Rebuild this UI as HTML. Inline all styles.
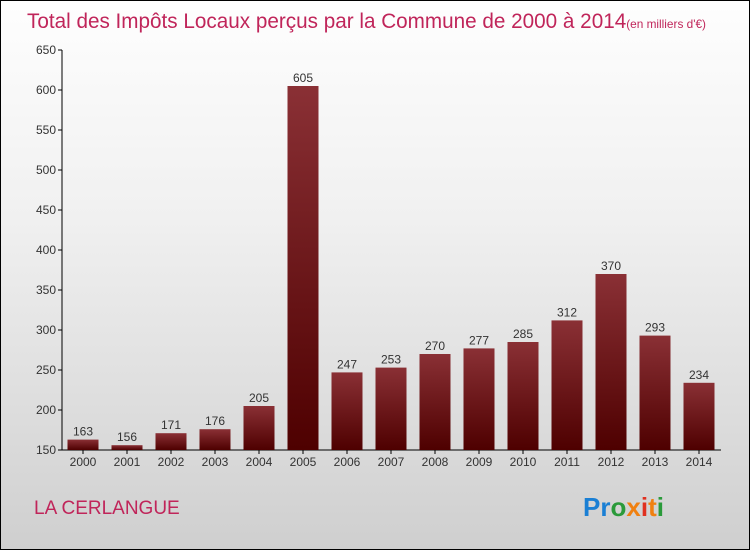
<!DOCTYPE html>
<html><head><meta charset="utf-8"><style>
body{margin:0}
#c{position:relative;width:748px;height:548px;border:1px solid #000;background:linear-gradient(#fefefe,#f0f0f0 40%,#cfcfcf);overflow:hidden;font-family:"Liberation Sans",sans-serif}
</style></head><body>
<div id="c">
<svg id="s" width="748" height="548">
<defs><linearGradient id="g" x1="0" x2="0" y1="0" y2="1"><stop offset="0" stop-color="#8a3035"/><stop offset="1" stop-color="#4e0000"/></linearGradient></defs>
<text x="26" y="27" font-size="21" fill="#c0255a" textLength="679" lengthAdjust="spacingAndGlyphs">Total des Impôts Locaux perçus par la Commune de 2000 à 2014<tspan font-size="12">(en milliers d'€)</tspan></text>
<text x="33" y="513" font-size="19" fill="#c0255a">LA CERLANGUE</text>
<text x="582" y="515" font-size="26" font-weight="bold"><tspan fill="#1a7fd4">Pr</tspan><tspan fill="#2a9a3a">o</tspan><tspan fill="#f08010">x</tspan><tspan fill="#e03020">i</tspan><tspan fill="#f08010">t</tspan><tspan fill="#2a9a3a">i</tspan></text>
</svg></div>
<script>
const years=["2000","2001","2002","2003","2004","2005","2006","2007","2008","2009","2010","2011","2012","2013","2014"];
const values=[163,156,171,176,205,605,247,253,270,277,285,312,370,293,234];
const ticks=[150,200,250,300,350,400,450,500,550,600,650];
const s=document.getElementById('s');const NS='http://www.w3.org/2000/svg';
const x0=60,step=44,yMin=150,yMax=650,yTop=49,yBot=449;
const y=v=>yBot-(v-yMin)/(yMax-yMin)*(yBot-yTop);
function el(t,a,p){const e=document.createElementNS(NS,t);for(const k in a)e.setAttribute(k,a[k]);(p||s).appendChild(e);return e;}
const ax=el('line',{x1:x0+1,x2:x0+1,y1:yTop,y2:yBot,stroke:'#000'});


const bx=el('line',{x1:x0,x2:x0+step*years.length,y1:yBot,y2:yBot,stroke:'#000'});


ticks.forEach(t=>{el('line',{x1:x0-3,x2:x0+1,y1:y(t),y2:y(t),stroke:'#000'});
const tx=el('text',{x:x0-5,y:y(t)+4,'font-size':12,fill:'#333','text-anchor':'end'});tx.textContent=t;

});
years.forEach((yr,i)=>{const cx=x0+step*i+step/2,v=values[i];
const r=el('rect',{x:cx-15.5,y:y(v),width:31,height:yBot-y(v),fill:'url(#g)'});


const l=el('text',{x:cx,y:y(v)-4,'font-size':12,fill:'#333','text-anchor':'middle'});l.textContent=v;


el('line',{x1:cx,x2:cx,y1:yBot,y2:yBot+4,stroke:'#000'});
const xl=el('text',{x:cx,y:yBot+16,'font-size':12,fill:'#333','text-anchor':'middle'});xl.textContent=yr;

});
</script></body></html>
